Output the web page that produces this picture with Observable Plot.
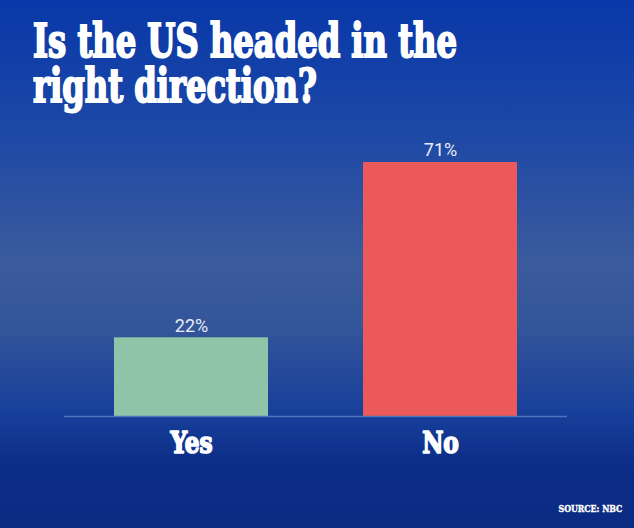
<!DOCTYPE html>
<html>
<head>
<meta charset="utf-8">
<script src="https://cdn.jsdelivr.net/npm/d3@7"></script>
<script src="https://cdn.jsdelivr.net/npm/@observablehq/plot@0.6"></script>
<style>
  html, body { margin: 0; padding: 0; }
  #frame {
    position: relative; width: 634px; height: 528px; overflow: hidden;
    background: linear-gradient(to bottom, #0838a9 0%, #1d48a6 25%, #3b5b9c 50%, #34559a 62%, #17409a 78%, #0c2d88 88%, #0b2a82 100%);
  }
  .cond { font-family: "DejaVu Serif Condensed", "DejaVu Serif", serif; font-weight: bold; font-stretch: condensed; color: #fff; }
  #title { position: absolute; left: 33px; top: 18px; font-size: 47px; line-height: 45px; transform-origin: 0 0; white-space: nowrap; -webkit-text-stroke: 2px #fff; }
  #title div { display: block; height: 45px; }
  #title span { display: inline-block; line-height: 40px; }
  #chart { position: absolute; left: 0; top: 130px; }
  #source { position: absolute; right: 12px; top: 503px; font-size: 10px; line-height: 12px; transform-origin: 100% 0; white-space: nowrap; -webkit-text-stroke: 0.4px #fff; }
</style>
</head>
<body>
<div id="frame">
  <div id="title" class="cond"><div><span id="t1">Is the US headed in the</span></div><div><span id="t2">right direction?</span></div></div>
  <div id="chart"></div>
  <div id="source" class="cond">SOURCE: NBC</div>
</div>
<script>
const categories = ["Yes", "No"];
const values = [22, 71];
const valueLabels = ["22%", "71%"];
const barColors = ["#8fc4a8", "#eb595a"];

const data = categories.map((c, i) => ({cat: c, value: values[i], label: valueLabels[i], color: barColors[i]}));

const plot = Plot.plot({
  width: 634,
  height: 345,
  marginLeft: 64,
  marginRight: 67,
  marginTop: 32,
  marginBottom: 59,
  style: {background: "transparent", overflow: "visible"},
  x: {domain: categories, paddingInner: 0.382, paddingOuter: 0.2, axis: null},
  y: {domain: [0, d3.max(values)], axis: null},
  marks: [
    Plot.barY(data, {x: "cat", y: "value", fill: "color"}),
    Plot.ruleY([0], {stroke: "#5273bd", strokeWidth: 1.5}),
    Plot.text(data, {x: "cat", y: "value", text: "label", dy: -12, fill: "#e9eef8", fontSize: 18, fontFamily: "Roboto, sans-serif"}),
    Plot.text(data, {x: "cat", y: () => 0, text: "cat", dy: 27, fill: "#ffffff", fontSize: 30, fontWeight: "bold", fontFamily: "'DejaVu Serif Condensed', 'DejaVu Serif', serif", className: "catlabel", stroke: "#ffffff", strokeWidth: 1.6})
  ]
});
document.getElementById("chart").appendChild(plot);

// condense the heavy headline face horizontally
document.querySelectorAll(".catlabel text").forEach(t => {
  const w = t.getComputedTextLength();
  t.setAttribute("textLength", w * 0.86);
  t.setAttribute("lengthAdjust", "spacingAndGlyphs");
});
const title = document.getElementById("title");
const natural = document.getElementById("t1").getBoundingClientRect().width;
title.style.transform = `scaleX(${424 / natural})`;
const src = document.getElementById("source");
src.style.transform = `scaleX(0.87)`;
</script>
</body>
</html>
